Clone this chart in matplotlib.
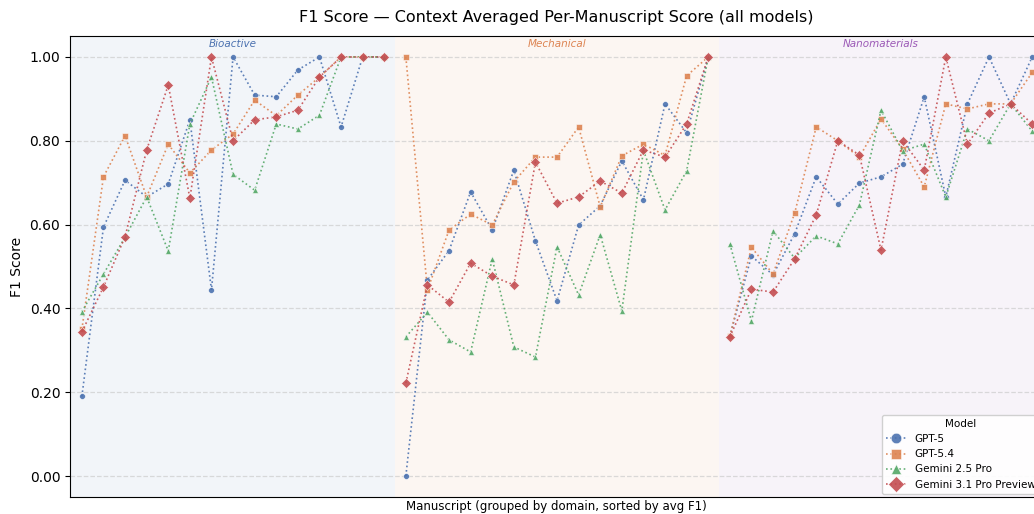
import matplotlib
matplotlib.use("Agg")
import matplotlib.pyplot as plt
import numpy as np

domains = ["Bioactive", "Mechanical", "Nanomaterials"]
domain_sizes = [15, 15, 15]
domain_colors = ["#4C72B0", "#DD8452", "#9B59B6"]

models = ["GPT-5", "GPT-5.4", "Gemini 2.5 Pro", "Gemini 3.1 Pro Preview"]
model_colors = ["#4C72B0", "#DD8452", "#55A868", "#C44E52"]
model_markers = ["o", "s", "^", "D"]

gpt5 = [0.19, 0.594, 0.706, 0.666, 0.697, 0.85, 0.444, 1.0, 0.909, 0.905, 0.969, 1.0, 0.833, 1.0, 1.0,
        0.0, 0.468, 0.538, 0.678, 0.587, 0.730, 0.561, 0.418, 0.599, 0.645, 0.752, 0.659, 0.888, 0.819, 1.0,
        0.333, 0.525, 0.48, 0.578, 0.714, 0.649, 0.699, 0.714, 0.744, 0.905, 0.666, 0.888, 1.0, 0.888, 1.0]
gpt54 = [0.35, 0.714, 0.812, 0.666, 0.792, 0.723, 0.778, 0.816, 0.897, 0.86, 0.909, 0.952, 1.0, 1.0, 1.0,
         1.0, 0.444, 0.587, 0.625, 0.599, 0.702, 0.761, 0.761, 0.833, 0.642, 0.764, 0.792, 0.765, 0.955, 1.0,
         0.333, 0.546, 0.482, 0.627, 0.833, 0.80, 0.761, 0.852, 0.780, 0.69, 0.888, 0.876, 0.888, 0.888, 0.963]
gem25 = [0.392, 0.482, 0.57, 0.666, 0.537, 0.84, 0.952, 0.72, 0.682, 0.84, 0.828, 0.861, 1.0, 1.0, 1.0,
         0.332, 0.391, 0.325, 0.296, 0.518, 0.308, 0.284, 0.547, 0.432, 0.576, 0.394, 0.777, 0.635, 0.728, 1.0,
         0.554, 0.370, 0.585, 0.52, 0.573, 0.554, 0.647, 0.873, 0.776, 0.792, 0.666, 0.828, 0.80, 0.888, 0.823]
gem31 = [0.344, 0.451, 0.571, 0.778, 0.933, 0.663, 1.0, 0.80, 0.85, 0.857, 0.873, 0.952, 1.0, 1.0, 1.0,
         0.222, 0.456, 0.415, 0.508, 0.477, 0.456, 0.749, 0.651, 0.666, 0.704, 0.675, 0.778, 0.761, 0.840, 1.0,
         0.332, 0.446, 0.439, 0.518, 0.623, 0.80, 0.766, 0.539, 0.80, 0.730, 1.0, 0.792, 0.866, 0.888, 0.840]
series = [gpt5, gpt54, gem25, gem31]

yticks = [0.0, 0.2, 0.4, 0.6, 0.8, 1.0]

W, H = 1034, 514
fig = plt.figure(figsize=(W / 100, H / 100), dpi=100)
ax = fig.add_axes([70 / W, (H - 497) / H, (1043 - 70) / W, (497 - 36) / H])

n = sum(domain_sizes)
x = np.arange(n)

start = 0
for d, size, c in zip(domains, domain_sizes, domain_colors):
    ax.axvspan(start - 0.5, start + size - 0.5, color=c, alpha=0.07, lw=0, zorder=0)
    ax.text(start + (size - 1) / 2, 1.043, d, ha="center", va="top", fontsize=7.5,
            style="italic", color=c, zorder=5)
    start += size

for name, vals, c, m in zip(models, series, model_colors, model_markers):
    ms = 4.2 if m != "D" else 4.8
    start = 0
    for i, size in enumerate(domain_sizes):
        xs = x[start:start + size]
        ys = vals[start:start + size]
        ax.plot(xs, ys, linestyle=":", color=c, lw=1.2, alpha=0.9,
                marker=m, markersize=ms, markeredgecolor="white", markeredgewidth=0.4,
                label=name if i == 0 else None, zorder=3)
        start += size

ax.set_xlim(-0.55, n - 0.5)
ax.set_ylim(-0.05, 1.05)
ax.set_yticks(yticks)
ax.set_yticklabels([f"{v:.2f}" for v in yticks], fontsize=10)
ax.set_xticks([])
ax.grid(axis="y", linestyle="--", color="#cccccc", alpha=0.7, lw=0.9)
ax.set_axisbelow(True)
ax.set_ylabel("F1 Score", fontsize=10)
ax.set_xlabel("Manuscript (grouped by domain, sorted by avg F1)", fontsize=8.5, labelpad=2.5)
ax.set_title("F1 Score — Context Averaged Per-Manuscript Score (all models)", fontsize=11.5, pad=10)

leg = ax.legend(title="Model", loc="lower right", fontsize=7.5, title_fontsize=7.5,
                markerscale=1.8, framealpha=0.9, borderaxespad=0.3)

fig.savefig("out.png", dpi=100)
